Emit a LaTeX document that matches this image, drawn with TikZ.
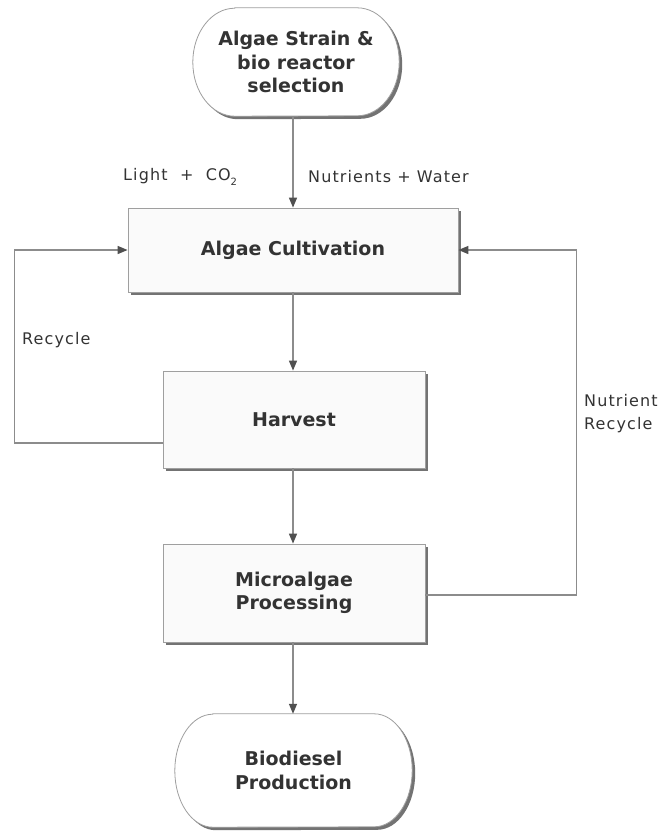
\documentclass[tikz,border=0pt]{standalone}
\usepackage{fontspec}
\setmainfont{DejaVu Sans}
\usetikzlibrary{arrows.meta,shadows,backgrounds}
\definecolor{txt}{HTML}{333333}
\definecolor{ln}{HTML}{8C8C8C}
\definecolor{tipc}{HTML}{505050}
\newcommand\termpath[3]{%
  \path[termshape] ([xshift=#2]#1.north west) -- ([xshift=-#2]#1.north east)
    arc[start angle=90,end angle=-90,x radius=#2,y radius=#3]
    -- ([xshift=#2]#1.south west)
    arc[start angle=270,end angle=90,x radius=#2,y radius=#3] -- cycle;}
\begin{document}
\begin{tikzpicture}[x=1pt,y=-1pt,
  boxtxt/.style={font=\fontsize{19}{23.5}\selectfont\bfseries, text=txt, align=center, inner sep=0pt},
  shad/.style={drop shadow={shadow xshift=3pt, shadow yshift=-3pt, opacity=0.55, fill=black}},
  procbox/.style={boxtxt, draw=gray!75, line width=0.8pt, fill=gray!4, shad},
  termshape/.style={draw=gray!75, line width=0.8pt, fill=white, shad},
  lbl/.style={font=\fontsize{16}{23}\selectfont\addfontfeature{LetterSpace=7}, text=txt, align=left, inner sep=0pt},
  conn/.style={draw=ln, line width=1.4pt},
  arr/.style={conn, -{Triangle[length=10pt,width=8pt,color=tipc,fill=tipc]}}
]
\useasboundingbox (0,0) rectangle (662,831);

% nodes
\node[boxtxt, minimum width=206pt, minimum height=108pt] (sel) at (296,62) {Algae Strain \&\\bio reactor\\selection};
\node[procbox, minimum width=330pt, minimum height=84pt] (cult) at (293,250) {Algae Cultivation};
\node[procbox, minimum width=262pt, minimum height=97pt] (harv) at (294,419.5) {Harvest};
\node[procbox, minimum width=262pt, minimum height=98pt] (proc) at (294,593) {Microalgae\\Processing};
\node[boxtxt, minimum width=237pt, minimum height=113pt] (bio) at (293.5,770.5) {Biodiesel\\Production};

\begin{scope}[on background layer]
  \termpath{sel}{42pt}{54pt}
  \termpath{bio}{38pt}{56.5pt}
\end{scope}

% labels
\node[lbl, anchor=west] (light) at (123,177) {Light\ \ +\ \ CO\raisebox{-0.6ex}{\fontsize{10}{10}\selectfont 2}};
\node[lbl, anchor=west] (nutw) at (308,177) {Nutrients + Water};
\node[lbl, anchor=west] (rec) at (22,340) {Recycle};
\node[lbl, anchor=west] (nrec) at (584,413.5) {Nutrient\\Recycle};

% connectors
\draw[arr] (sel.south -| cult.north) -- (cult.north);
\draw[arr] (cult.south) -- (harv.north -| cult.south);
\draw[arr] (harv.south -| cult.south) -- (proc.north -| cult.south);
\draw[arr] (proc.south -| cult.south) -- (bio.north -| cult.south);
\draw[arr] ([yshift=-23.5pt]harv.west) -- ++(-148,0) |- (cult.west);
\draw[arr] ([yshift=-2pt]proc.east) -- ++(151,0) |- (cult.east);
\end{tikzpicture}
\end{document}
